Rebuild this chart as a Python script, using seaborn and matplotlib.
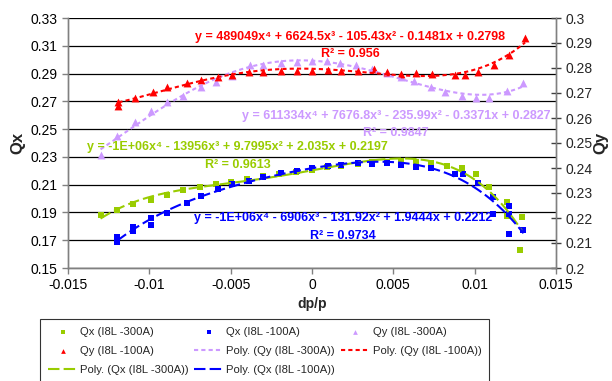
import numpy as np
import pandas as pd
import matplotlib
matplotlib.use('Agg')
import matplotlib.pyplot as plt
import seaborn as sns
from matplotlib.ticker import FuncFormatter

# Qx (I8L -300A), left axis
qx300_dp = [-0.0130, -0.0120, -0.0110, -0.0099, -0.0089, -0.0079, -0.0069, -0.0059, -0.0050, -0.0040,
            -0.0030, -0.0020, -0.0010, 0.0000, 0.0009, 0.0018, 0.0028, 0.0037, 0.0046, 0.0055,
            0.0064, 0.0073, 0.0083, 0.0092, 0.0101, 0.0109, 0.0120, 0.0120, 0.0129, 0.0128]
qx300_q = [0.1882, 0.1918, 0.1959, 0.1990, 0.2026, 0.2062, 0.2085, 0.2103, 0.2117, 0.2141,
           0.2162, 0.2180, 0.2193, 0.2206, 0.2225, 0.2238, 0.2252, 0.2260, 0.2260, 0.2267,
           0.2263, 0.2258, 0.2237, 0.2218, 0.2177, 0.2080, 0.1975, 0.1872, 0.1865, 0.1630]

# Qx (I8L -100A), left axis
qx100_dp = [-0.0120, -0.0120, -0.0110, -0.0110, -0.0099, -0.0099, -0.0089, -0.0077, -0.0068, -0.0058,
            -0.0049, -0.0039, -0.0030, -0.0019, -0.0009, 0.0000, 0.0010, 0.0018, 0.0028, 0.0037,
            0.0046, 0.0055, 0.0064, 0.0073, 0.0088, 0.0093, 0.0102, 0.0111, 0.0111, 0.0121,
            0.0121, 0.0121, 0.0130]
qx100_q = [0.1723, 0.1685, 0.1793, 0.1770, 0.1858, 0.1810, 0.1898, 0.1970, 0.2018, 0.2069,
           0.2103, 0.2129, 0.2153, 0.2182, 0.2201, 0.2218, 0.2237, 0.2242, 0.2254, 0.2249,
           0.2254, 0.2242, 0.2229, 0.2222, 0.2178, 0.2175, 0.2112, 0.2013, 0.1889, 0.1946,
           0.1889, 0.1748, 0.1774]

# Qy (I8L -300A), right axis
qy300_dp = [-0.0130, -0.0120, -0.0109, -0.0099, -0.0089, -0.0079, -0.0068, -0.0059, -0.0049, -0.0038,
            -0.0030, -0.0019, -0.0009, 0.0000, 0.0009, 0.0017, 0.0027, 0.0037, 0.0046, 0.0055,
            0.0063, 0.0073, 0.0082, 0.0092, 0.0101, 0.0109, 0.0120, 0.0130]
qy300_q = [0.2452, 0.2528, 0.2583, 0.2628, 0.2665, 0.2688, 0.2723, 0.2745, 0.2768, 0.2812,
           0.2812, 0.2821, 0.2825, 0.2828, 0.2826, 0.2821, 0.2812, 0.2796, 0.2779, 0.2763,
           0.2749, 0.2723, 0.2705, 0.2688, 0.2679, 0.2681, 0.2708, 0.2741]

# Qy (I8L -100A), right axis
qy100_dp = [-0.0119, -0.0119, -0.0109, -0.0098, -0.0089, -0.0077, -0.0068, -0.0058, -0.0049, -0.0039,
            -0.0030, -0.0019, -0.0009, 0.0000, 0.0010, 0.0018, 0.0028, 0.0038, 0.0046, 0.0055,
            0.0064, 0.0074, 0.0088, 0.0094, 0.0102, 0.0112, 0.0121, 0.0131]
qy100_q = [0.2650, 0.2665, 0.2679, 0.2703, 0.2725, 0.2739, 0.2752, 0.2763, 0.2772, 0.2783,
           0.2783, 0.2789, 0.2789, 0.2789, 0.2792, 0.2789, 0.2789, 0.2795, 0.2783, 0.2776,
           0.2779, 0.2776, 0.2772, 0.2772, 0.2783, 0.2812, 0.2852, 0.2919]

left_ticks = [0.15, 0.17, 0.19, 0.21, 0.23, 0.25, 0.27, 0.29, 0.31, 0.33]
right_ticks = [0.2, 0.21, 0.22, 0.23, 0.24, 0.25, 0.26, 0.27, 0.28, 0.29, 0.3]
x_ticks = [-0.015, -0.01, -0.005, 0, 0.005, 0.01, 0.015]

# trendline equations as printed on the chart
eq_qy100 = 'y = 489049x⁴ + 6624.5x³ - 105.43x² - 0.1481x + 0.2798'
r2_qy100 = 'R² = 0.956'
eq_qy300 = 'y = 611334x⁴ + 7676.8x³ - 235.99x² - 0.3371x + 0.2827'
r2_qy300 = 'R² = 0.9847'
eq_qx300 = 'y = -1E+06x⁴ - 13956x³ + 9.7995x² + 2.035x + 0.2197'
r2_qx300 = 'R² = 0.9613'
eq_qx100 = 'y = -1E+06x⁴ - 6906x³ - 131.92x² + 1.9444x + 0.2212'
r2_qx100 = 'R² = 0.9734'

GREEN = '#99CC00'
BLUE = '#0000FF'
LAV = '#CC99FF'
RED = '#FF0000'

sns.set_style('white')
plt.rcParams['font.family'] = ['Liberation Sans', 'DejaVu Sans']

fig = plt.figure(figsize=(6.12, 3.81), dpi=100)
ax = fig.add_axes([68/612, 1-268/381, 488/612, 250/381])
ax2 = ax.twinx()

# left axis: Qx
sns.regplot(x=qx300_dp, y=qx300_q, order=4, ci=None, scatter=False, ax=ax, color=GREEN,
            label='Poly. (Qx (I8L -300A))', line_kws=dict(lw=1.5, dashes=(5.5, 2)))
sns.regplot(x=qx100_dp, y=qx100_q, order=4, ci=None, scatter=False, ax=ax, color=BLUE,
            label='Poly. (Qx (I8L -100A))', line_kws=dict(lw=1.5, dashes=(5.5, 2)))
sns.scatterplot(x=qx300_dp, y=qx300_q, ax=ax, color=GREEN, marker='s', s=24, linewidth=0,
                legend=False, label='Qx (I8L -300A)')
sns.scatterplot(x=qx100_dp, y=qx100_q, ax=ax, color=BLUE, marker='s', s=24, linewidth=0,
                legend=False, label='Qx (I8L -100A)')

# right axis: Qy
sns.regplot(x=qy300_dp, y=qy300_q, order=4, ci=None, scatter=False, ax=ax2, color=LAV,
            label='Poly. (Qy (I8L -300A))', line_kws=dict(lw=1.5, dashes=(2, 1.5)))
sns.regplot(x=qy100_dp, y=qy100_q, order=4, ci=None, scatter=False, ax=ax2, color=RED,
            label='Poly. (Qy (I8L -100A))', line_kws=dict(lw=1.5, dashes=(2, 1.5)))
sns.scatterplot(x=qy300_dp, y=qy300_q, ax=ax2, color=LAV, marker='^', s=32, linewidth=0,
                legend=False, label='Qy (I8L -300A)')
sns.scatterplot(x=qy100_dp, y=qy100_q, ax=ax2, color=RED, marker='^', s=32, linewidth=0,
                legend=False, label='Qy (I8L -100A)')

ax.set_xlim(-0.015, 0.015)
ax.set_ylim(0.15, 0.33)
ax2.set_ylim(0.2, 0.3)
ax.set_xticks(x_ticks)
ax.set_yticks(left_ticks)
ax2.set_yticks(right_ticks)
fmt = FuncFormatter(lambda v, p: '%g' % round(v, 4))
ax.xaxis.set_major_formatter(fmt)
ax.yaxis.set_major_formatter(fmt)
ax2.yaxis.set_major_formatter(fmt)

ax.grid(axis='y', color='black', lw=0.9)
ax.grid(axis='x', visible=False)
for a in (ax, ax2):
    for sp in a.spines.values():
        sp.set_color('#808080')
        sp.set_linewidth(1.0)
    a.spines['top'].set_visible(False)
ax.tick_params(axis='both', labelsize=10, colors='black', length=4, width=1, direction='out',
               left=True, bottom=True)
ax.tick_params(axis='both', color='#808080')
ax2.tick_params(axis='y', labelsize=10, direction='inout', length=7, width=1, color='#404040', right=True)

ax.set_xlabel('dp/p', fontsize=10, fontweight='bold', labelpad=3)
ax.set_ylabel('Qx', fontsize=12, fontweight='bold', labelpad=4)
ax2.set_ylabel('Qy', fontsize=12, fontweight='bold', labelpad=0)

# trendline labels
txt = dict(transform=ax.transAxes, ha='center', va='center', fontsize=9, fontweight='bold')
ax2.text(0.578, 0.924, eq_qy100, color=RED, **txt)
ax2.text(0.578, 0.856, r2_qy100, color=RED, **txt)
ax2.text(0.672, 0.608, eq_qy300, color=LAV, **txt)
ax2.text(0.672, 0.540, r2_qy300, color=LAV, **txt)
ax2.text(0.348, 0.484, eq_qx300, color=GREEN, **txt)
ax2.text(0.348, 0.412, r2_qx300, color=GREEN, **txt)
ax2.text(0.564, 0.200, eq_qx100, color=BLUE, **txt)
ax2.text(0.564, 0.128, r2_qx100, color=BLUE, **txt)

# legend, filled row by row like the original
h1, l1 = ax.get_legend_handles_labels()
h2, l2 = ax2.get_legend_handles_labels()
hmap = dict(zip(l1 + l2, h1 + h2))
rows = ['Qx (I8L -300A)', 'Qx (I8L -100A)', 'Qy (I8L -300A)',
        'Qy (I8L -100A)', 'Poly. (Qy (I8L -300A))', 'Poly. (Qy (I8L -100A))',
        'Poly. (Qx (I8L -300A))', 'Poly. (Qx (I8L -100A))']
order = [rows[i] for i in (0, 3, 6, 1, 4, 7, 2, 5)]
leg = fig.legend([hmap[k] for k in order], order, ncol=3, loc='upper left',
                 bbox_to_anchor=(40/612, 1-319/381), frameon=True, fancybox=False,
                 edgecolor='black', fontsize=8.1, handlelength=2.6, handletextpad=0.25,
                 columnspacing=0.5, labelspacing=0.8, borderpad=0.7, markerscale=0.6,
                 borderaxespad=0)
leg.get_frame().set_linewidth(0.8)

fig.savefig('out.png', dpi=100)
